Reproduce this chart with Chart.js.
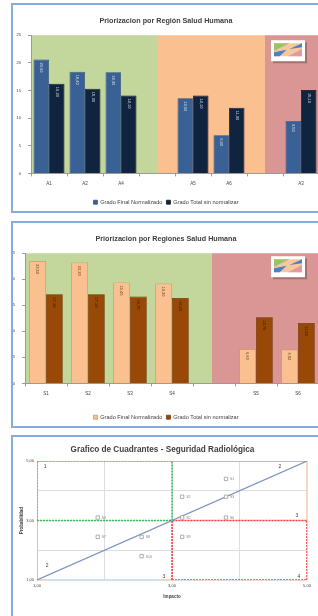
<!DOCTYPE html>
<html>
<head>
<meta charset="utf-8">
<script src="https://cdn.jsdelivr.net/npm/chart.js@4.4.1/dist/chart.umd.min.js"></script>
<style>
  html, body { margin: 0; padding: 0; width: 318px; height: 616px; overflow: hidden; background: #fff; }
  .box { position: absolute; left: 11px; width: 330px; border: 2px solid #86abdc; box-sizing: border-box; background: #fff; }
  #b1 { top: 3px; height: 210px; }
  #b2 { top: 221px; height: 207px; }
  #b3 { top: 435px; height: 200px; }
</style>
</head>
<body>
<div class="box" id="b1"><canvas id="c1"></canvas></div>
<div class="box" id="b2"><canvas id="c2"></canvas></div>
<div class="box" id="b3"><canvas id="c3"></canvas></div>
<script>
// --- data ---
const seriesNames = ['Grado Final Normalizado', 'Grado Total sin normalizar'];

const regionLabels = ['A1', 'A2', 'A4', '', 'A5', 'A6', '', 'A3'];
const regionFinal = [20.6, 18.4, 18.3, null, 13.6, 6.9, null, 9.5];
const regionTotal = [16.2, 15.3, 14.1, null, 14.1, 11.9, null, 15.1];

const regionesLabels = ['S1', 'S2', 'S3', 'S4', '', 'S5', 'S6'];
const regionesFinal = [23.5, 23.2, 19.4, 19.2, null, 6.6, 6.5];
const regionesTotal = [17.1, 17.1, 16.7, 16.4, null, 12.7, 11.6];

const quadNames = ['S1', 'S2', 'S3', 'S4', 'S5', 'S6', 'S7', 'S8', 'S9', 'S10'];
const quadImpacto = [3.8, 3.15, 3.8, 1.9, 3.15, 3.8, 1.9, 2.55, 3.15, 2.55];
const quadProbabilidad = [4.4, 3.8, 3.8, 3.1, 3.1, 3.1, 2.45, 2.45, 2.45, 1.8];

const quadNumbers = ['1', '2', '3', '2', '3', '4'];
const quadNumberX = [1.12, 4.6, 4.85, 1.15, 2.88, 4.88];
const quadNumberY = [4.8, 4.8, 3.15, 1.5, 1.1, 1.1];

const axisMin = 1, axisMid = 3, axisMax = 5;

const FONT = "'Liberation Sans', Arial, sans-serif";
Chart.defaults.font.family = FONT;
Chart.defaults.color = '#404040';

const comma = v => v.toFixed(2).replace('.', ',');

// coloured bands behind the bars + the small picture in the corner
const bandsPlugin = {
  id: 'bands',
  beforeDraw(chart, args, opts) {
    const { ctx, chartArea: a, scales: { x } } = chart;
    ctx.save();
    opts.bands.forEach(b => {
      const x0 = b.from == null ? a.left : x.getPixelForValue(b.from);
      const x1 = b.to == null ? a.right : x.getPixelForValue(b.to);
      ctx.fillStyle = b.color;
      ctx.fillRect(x0, a.top, x1 - x0, a.bottom - a.top);
    });
    // picture
    const px = a.right - 48, py = a.top + opts.picTop, pw = 34, ph = 21;
    ctx.fillStyle = 'rgba(0,0,0,0.25)';
    ctx.fillRect(px + 2, py + 2, pw, ph);
    ctx.fillStyle = '#fff';
    ctx.fillRect(px, py, pw, ph);
    const ix = px + 3, iy = py + 3, iw = pw - 6, ih = ph - 8;
    ctx.fillStyle = '#f7c8a0';
    ctx.fillRect(ix, iy, iw, ih);
    ctx.fillStyle = '#9bc36a';
    ctx.beginPath(); ctx.moveTo(ix, iy); ctx.lineTo(ix + iw * 0.55, iy); ctx.lineTo(ix, iy + ih * 0.6); ctx.fill();
    ctx.fillStyle = '#4a82c8';
    ctx.beginPath(); ctx.moveTo(ix + iw * 0.55, iy + ih * 0.45); ctx.lineTo(ix + iw, iy); ctx.lineTo(ix + iw, iy + ih * 0.3); ctx.fill();
    ctx.beginPath(); ctx.moveTo(ix, iy + ih * 0.7); ctx.lineTo(ix + iw * 0.45, iy + ih * 0.5); ctx.lineTo(ix + iw * 0.2, iy + ih); ctx.lineTo(ix, iy + ih); ctx.fill();
    ctx.fillStyle = '#e49a9a';
    ctx.beginPath(); ctx.moveTo(ix + iw * 0.5, iy + ih); ctx.lineTo(ix + iw, iy + ih * 0.45); ctx.lineTo(ix + iw, iy + ih); ctx.fill();
    ctx.restore();
  }
};

// vertical value labels at the top of each bar
const barValueLabels = {
  id: 'barValueLabels',
  afterDatasetsDraw(chart, args, opts) {
    const ctx = chart.ctx;
    chart.data.datasets.forEach((ds, i) => {
      chart.getDatasetMeta(i).data.forEach((bar, j) => {
        const v = ds.data[j];
        if (v == null) return;
        ctx.save();
        ctx.translate(bar.x, bar.y + 3);
        ctx.rotate(Math.PI / 2);
        ctx.font = '4px ' + FONT;
        ctx.fillStyle = opts.colors[i];
        ctx.textAlign = 'left';
        ctx.textBaseline = 'middle';
        ctx.fillText(comma(v), 0, 0);
        ctx.restore();
      });
    });
  }
};

function barChart(id, labels, a, b, colors, borders, labelColors, bands, yWidth, picTop, xHeight) {
  return new Chart(document.getElementById(id), {
    type: 'bar',
    data: {
      labels,
      datasets: [
        { label: seriesNames[0], data: a, backgroundColor: colors[0], borderColor: borders[0], borderWidth: 0.7 },
        { label: seriesNames[1], data: b, backgroundColor: colors[1], borderColor: borders[1], borderWidth: 0.7 }
      ]
    },
    options: {
      responsive: true,
      maintainAspectRatio: false,
      animation: false,
      datasets: { bar: { categoryPercentage: id === 'c1' ? 0.86 : 0.8, barPercentage: 1 } },
      layout: { padding: { left: 0, right: 20, top: 0, bottom: -4 } },
      plugins: {
        title: {
          display: true,
          text: id === 'c1' ? 'Priorizacion por Región Salud Humana' : 'Priorizacion por Regiones Salud Humana',
          font: { size: 7.2, weight: 'bold' },
          color: '#404040',
          padding: { top: 12, bottom: 9.6 }
        },
        legend: {
          position: 'bottom',
          labels: { font: { size: 5.6 }, boxWidth: 4, boxHeight: 4, padding: 4 }
        },
        tooltip: { enabled: false },
        bands: { bands, picTop },
        barValueLabels: { colors: labelColors }
      },
      scales: {
        x: {
          grid: { display: true, drawOnChartArea: false, tickLength: 3, color: '#9a9a9a' },
          border: { color: '#9a9a9a' },
          ticks: { font: { size: 4.5 }, padding: 5 },
          afterFit: s => { s.height = xHeight; }
        },
        y: {
          min: 0, max: 25,
          ticks: { stepSize: 5, font: { size: 4 }, padding: 7 },
          grid: { display: true, drawOnChartArea: false, tickLength: 3, color: '#9a9a9a' },
          border: { color: '#9a9a9a' },
          afterFit: s => { s.width = yWidth; }
        }
      }
    },
    plugins: [bandsPlugin, barValueLabels]
  });
}

barChart('c1', regionLabels, regionFinal, regionTotal,
  ['#3a6196', '#10243f'], ['#2d4c78', '#050d18'], ['#d8e0ec', '#d8e0ec'],
  [{ from: null, to: 3, color: '#c3d69b' }, { from: 3, to: 6, color: '#fac090' }, { from: 6, to: null, color: '#d99694' }],
  18, 5, 22);

barChart('c2', regionesLabels, regionesFinal, regionesTotal,
  ['#fac090', '#984807'], ['#c89060', '#6a3004'], ['#5a3a1a', '#2a1400'],
  [{ from: null, to: 3.95, color: '#c3d69b' }, { from: 3.95, to: null, color: '#d99694' }],
  12, 3, 27);

// --- quadrant chart ---
const quadPoints = quadImpacto.map((x, i) => ({ x, y: quadProbabilidad[i] }));
const seg = (pts) => pts.map(([x, y]) => ({ x, y }));

const quadText = {
  id: 'quadText',
  afterDatasetsDraw(chart) {
    const { ctx, scales: { x, y } } = chart;
    ctx.save();
    ctx.font = '5px ' + FONT;
    ctx.fillStyle = '#404040';
    ctx.textAlign = 'center';
    ctx.textBaseline = 'middle';
    quadNumbers.forEach((t, i) => ctx.fillText(t, x.getPixelForValue(quadNumberX[i]), y.getPixelForValue(quadNumberY[i])));
    ctx.font = '3.5px ' + FONT;
    ctx.fillStyle = '#808080';
    ctx.textAlign = 'left';
    quadPoints.forEach((p, i) => ctx.fillText(quadNames[i], x.getPixelForValue(p.x) + 4, y.getPixelForValue(p.y) + 0.5));
    ctx.restore();
  }
};

const lineDs = (data, color, dash, width) => ({
  type: 'scatter', data, showLine: true, borderColor: color, borderWidth: width,
  borderDash: dash, pointRadius: 0, fill: false
});

new Chart(document.getElementById('c3'), {
  type: 'scatter',
  data: {
    datasets: [
      { data: quadPoints, pointStyle: 'rect', pointRadius: 2.4, backgroundColor: '#ffffff', borderColor: '#909090', borderWidth: 0.7 },
      lineDs(seg([[axisMin, axisMin], [axisMax, axisMax]]), '#7f95bf', [], 1.2),
      lineDs(seg([[axisMin, axisMid], [axisMid, axisMid], [axisMid, axisMax], [axisMin, axisMax], [axisMin, axisMid]]), '#3cbf5a', [2, 1], 1.6),
      lineDs(seg([[axisMid, axisMin], [axisMax, axisMin], [axisMax, axisMid], [axisMid, axisMid], [axisMid, axisMin]]), '#ff3b3b', [2, 1], 1.6),
      lineDs(seg([[axisMax, axisMid], [axisMax, axisMax]]), '#f6c8a4', [], 1.4),
      lineDs(seg([[axisMin, axisMin], [axisMid, axisMin]]), '#f6c8a4', [], 1.4),
      lineDs(seg([[axisMid, axisMax], [axisMax, axisMax]]), '#a6b2c4', [], 1.4),
      lineDs(seg([[axisMin, axisMin], [axisMin, axisMid]]), '#b4bfd0', [], 1.4)
    ]
  },
  options: {
    responsive: true,
    maintainAspectRatio: false,
    animation: false,
    layout: { padding: { left: 5, right: 32, top: 0, bottom: 34 } },
    plugins: {
      legend: { display: false },
      tooltip: { enabled: false },
      title: {
        display: true,
        text: 'Grafico de Cuadrantes - Seguridad Radiológica',
        font: { size: 8.2, weight: 'bold' },
        color: '#404040',
        padding: { top: 8, bottom: 6.2 }
      }
    },
    scales: {
      x: {
        min: axisMin, max: axisMax,
        ticks: { stepSize: 1, font: { size: 4 }, padding: 3, callback: v => (v % 2 === 1 ? comma(v) : '') },
        grid: { color: '#dddddd', tickLength: 0 },
        border: { display: false },
        title: { display: true, text: 'Impacto', font: { size: 4.5, weight: 'bold' }, padding: 0 },
        afterFit: s => { s.height = 19; }
      },
      y: {
        min: axisMin, max: axisMax,
        ticks: { stepSize: 1, font: { size: 4 }, padding: 3, callback: v => (v % 2 === 1 ? comma(v) : '') },
        grid: { color: '#dddddd', tickLength: 0 },
        border: { display: false },
        title: { display: true, text: 'Probabilidad', font: { size: 4.5, weight: 'bold' }, padding: 1 },
        afterFit: s => { s.width = 19; }
      }
    }
  },
  plugins: [quadText]
});
</script>
</body>
</html>
